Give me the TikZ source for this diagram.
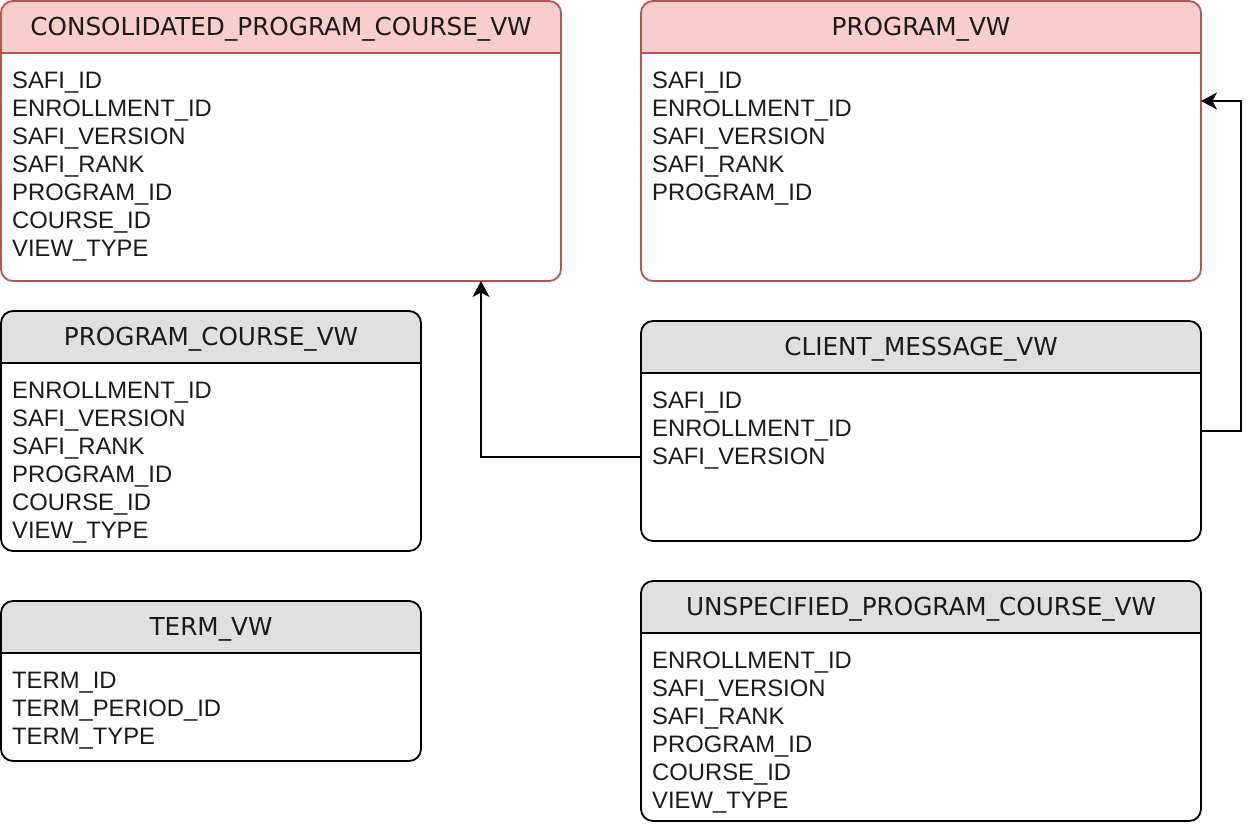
\documentclass[tikz,border=0pt]{standalone}
\usepackage{fontspec}
\setmainfont{Liberation Sans}
\newfontfamily\hdrfont{DejaVu Sans}
\usetikzlibrary{arrows.meta,calc}
\definecolor{pinkfill}{HTML}{F8CECC}
\definecolor{pinkline}{HTML}{B85450}
\definecolor{grayfill}{HTML}{E0E0E0}
\definecolor{txt}{HTML}{1A1A1A}
\tikzset{
  tblgeom/.style={draw=none, inner sep=0pt, outer sep=0pt, anchor=north west},
  hdr/.style={font=\hdrfont\fontsize{24.7}{28}\selectfont, anchor=base, inner sep=0pt, text=txt},
  fields/.style={font=\fontsize{23.8}{28}\selectfont, align=left, inner sep=0pt, text=txt, anchor=north west},
  conn/.style={draw=black, line width=2pt, -{Stealth[length=16pt,width=17pt,inset=4.5pt]}},
}
\newcommand{\dbtable}[9]{%
  \node[tblgeom, minimum width=#4pt, minimum height=#5pt] (#1) at (#2pt,-#3pt) {};
  \begin{scope}
    \clip[rounded corners=12pt] (#1.north west) rectangle (#1.south east);
    \fill[#6] (#1.north west) rectangle ($(#1.north east)+(0,-52pt)$);
  \end{scope}
  \draw[#7, line width=1.8pt, rounded corners=12pt] (#1.north west) rectangle (#1.south east);
  \draw[#7, line width=1.8pt] ($(#1.north west)+(0,-52pt)$) -- ($(#1.north east)+(0,-52pt)$);
  \node[hdr] (#1-title) at ($(#1.north)+(0,-34pt)$) {#8};
  \node[fields] (#1-fields) at ($(#1.north west)+(11pt,-70.5pt)$) {#9};
}
\begin{document}
\begin{tikzpicture}
\useasboundingbox (0,0) rectangle (1258pt,-828pt);
\dbtable{cons}{1}{1}{560}{280}{pinkfill}{pinkline}{CONSOLIDATED\_PROGRAM\_COURSE\_VW}{SAFI\_ID\\ENROLLMENT\_ID\\SAFI\_VERSION\\SAFI\_RANK\\PROGRAM\_ID\\COURSE\_ID\\VIEW\_TYPE}
\dbtable{prog}{641}{1}{560}{280}{pinkfill}{pinkline}{PROGRAM\_VW}{SAFI\_ID\\ENROLLMENT\_ID\\SAFI\_VERSION\\SAFI\_RANK\\PROGRAM\_ID}
\dbtable{pcv}{1}{311}{420}{240}{grayfill}{black}{PROGRAM\_COURSE\_VW}{ENROLLMENT\_ID\\SAFI\_VERSION\\SAFI\_RANK\\PROGRAM\_ID\\COURSE\_ID\\VIEW\_TYPE}
\dbtable{client}{641}{321}{560}{220}{grayfill}{black}{CLIENT\_MESSAGE\_VW}{SAFI\_ID\\ENROLLMENT\_ID\\SAFI\_VERSION}
\dbtable{term}{1}{601}{420}{160}{grayfill}{black}{TERM\_VW}{TERM\_ID\\TERM\_PERIOD\_ID\\TERM\_TYPE}
\dbtable{unspec}{641}{581}{560}{240}{grayfill}{black}{UNSPECIFIED\_PROGRAM\_COURSE\_VW}{ENROLLMENT\_ID\\SAFI\_VERSION\\SAFI\_RANK\\PROGRAM\_ID\\COURSE\_ID\\VIEW\_TYPE}
\coordinate (a1) at ($(cons.south west)+(480pt,0)$);
\coordinate (s1) at ($(client.north west)+(0,-136pt)$);
\draw[conn] (s1) -| (a1);
\coordinate (a2) at ($(prog.north east)+(0,-100pt)$);
\draw[conn] (client.east) -- ++(40pt,0) |- (a2);
\end{tikzpicture}
\end{document}
